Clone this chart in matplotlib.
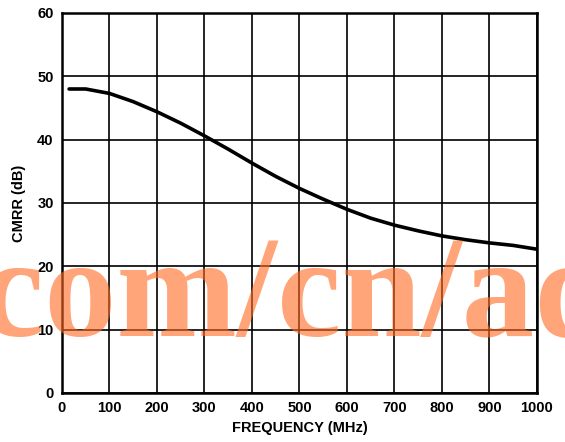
import matplotlib.pyplot as plt

# CMRR vs frequency
freq_mhz = [15, 50, 100, 150, 200, 250, 300, 350, 400, 450, 500,
            550, 600, 650, 700, 750, 800, 850, 900, 950, 1000]
cmrr_db = [48.0, 48.0, 47.3, 46.0, 44.4, 42.6, 40.6, 38.5, 36.3, 34.2, 32.3,
           30.6, 29.0, 27.6, 26.5, 25.6, 24.8, 24.2, 23.7, 23.3, 22.7]

x_ticks = list(range(0, 1001, 100))
y_ticks = list(range(0, 61, 10))

plt.rcParams["font.family"] = "Liberation Sans"
plt.rcParams["font.weight"] = "bold"

fig = plt.figure(figsize=(5.65, 4.42), dpi=100)
ax = fig.add_axes([0.1097, 0.1109, 0.8407, 0.8597])

ax.plot(freq_mhz, cmrr_db, color="black", linewidth=2.6, solid_capstyle="round", zorder=3)

ax.set_xlim(0, 1000)
ax.set_ylim(0, 60)
ax.set_xticks(x_ticks)
ax.set_yticks(y_ticks)
ax.grid(True, color="black", linewidth=1.2)
ax.tick_params(length=0, labelsize=10.5, pad=6)
for s in ax.spines.values():
    s.set_linewidth(1.8)

ax.set_xlabel("FREQUENCY (MHz)", fontsize=10.5, fontweight="bold", labelpad=4)
ax.set_ylabel("CMRR (dB)", fontsize=10.5, fontweight="bold", labelpad=8)

# watermark over the plot
fig.text(-0.035, 0.24, "com/cn/ad", fontsize=104, family="Liberation Serif",
         fontweight="bold", color="#FF6A20", alpha=0.6, zorder=10)

fig.savefig("out.png", dpi=100)
